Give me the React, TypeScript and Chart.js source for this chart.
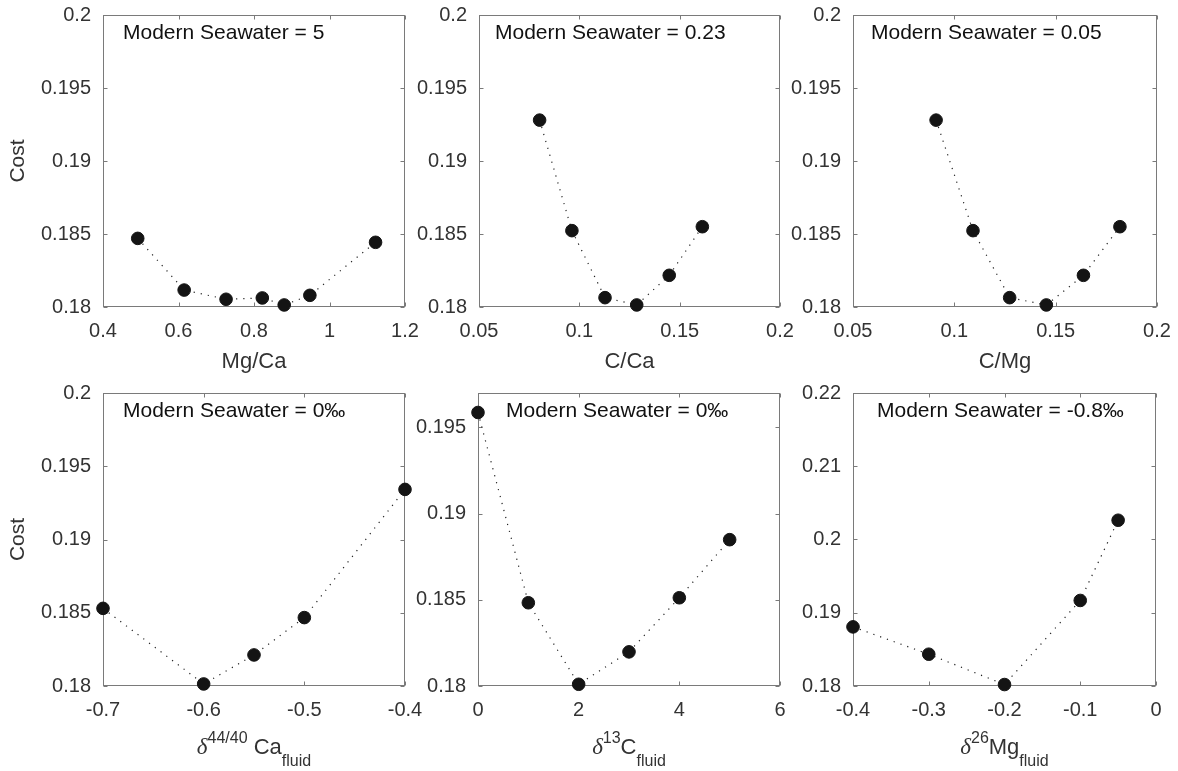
import React, { useEffect, useRef } from "react";
import { Chart, registerables } from "chart.js";

Chart.register(...registerables);

// ---- data ---------------------------------------------------------------
const mgCaRatio = [0.492, 0.615, 0.726, 0.822, 0.88, 0.948, 1.122];
const mgCaCost = [0.1847, 0.18116, 0.18053, 0.18062, 0.18014, 0.1808, 0.18443];
const mgCaTicks = [0.4, 0.6, 0.8, 1, 1.2];

const cCaRatio = [0.0802, 0.0963, 0.1128, 0.1286, 0.1448, 0.1613];
const cCaCost = [0.1928, 0.18523, 0.18064, 0.18014, 0.18217, 0.1855];
const cCaTicks = [0.05, 0.1, 0.15, 0.2];

const cMgRatio = [0.091, 0.1092, 0.1273, 0.1454, 0.1637, 0.1817];
const cMgCost = [0.1928, 0.18523, 0.18064, 0.18014, 0.18217, 0.1855];
const cMgTicks = [0.05, 0.1, 0.15, 0.2];

const d44CaFluid = [-0.7, -0.6, -0.55, -0.5, -0.4];
const d44CaCost = [0.1853, 0.18014, 0.18212, 0.18467, 0.19342];
const d44CaTicks = [-0.7, -0.6, -0.5, -0.4];

const d13CFluid = [0, 1, 2, 3, 4, 5];
const d13CCost = [0.19587, 0.18483, 0.1801, 0.18198, 0.18512, 0.18849];
const d13CTicks = [0, 2, 4, 6];

const d26MgFluid = [-0.4, -0.3, -0.2, -0.1, -0.05];
const d26MgCost = [0.18807, 0.18434, 0.1802, 0.19168, 0.20263];
const d26MgTicks = [-0.4, -0.3, -0.2, -0.1, 0];

const costTicks = [0.18, 0.185, 0.19, 0.195, 0.2];
const costTicksC13 = [0.18, 0.185, 0.19, 0.195];
const costTicksMg26 = [0.18, 0.19, 0.2, 0.21, 0.22];
const costMaxC13 = 0.197;

// ---- styling --------------------------------------------------------------
const SANS = '"Liberation Sans", Arial, Helvetica, sans-serif';
const SERIF = '"Liberation Serif", "DejaVu Serif", serif';
const TICK_COLOR = "#333333";
const AXIS_COLOR = "#7a7a7a";
const NOTE_COLOR = "#111111";
const MARK_COLOR = "#141414";

const AXIS_W = 97; // room left of the plot box for tick labels and "Cost"
const PAD_TOP = 30;
const PAD_RIGHT = 40;
const X_AXIS_H = 85;
const TICK_LEN = 4;

type Seg = { text: string; size: number; rise?: number; italic?: boolean; serif?: boolean };

type Panel = {
  xs: number[];
  ys: number[];
  xTicks: number[];
  yTicks: number[];
  yMax: number;
  note: string;
  noteDx: number;
  label: Seg[];
  labelDrop: number;
  showCost: boolean;
  rect: { left: number; top: number; width: number; height: number };
};

const plain = (text: string): Seg[] => [{ text, size: 22 }];
const delta = (mass: string, elem: string, gap: string): Seg[] => [
  { text: "\u03b4", size: 23, italic: true, serif: true },
  { text: mass, size: 16, rise: 11 },
  { text: gap + elem, size: 22 },
  { text: "fluid", size: 16, rise: -12 },
];

const panels: Panel[] = [
  {
    xs: mgCaRatio, ys: mgCaCost, xTicks: mgCaTicks, yTicks: costTicks, yMax: 0.2,
    note: "Modern Seawater = 5", noteDx: 20, label: plain("Mg/Ca"), labelDrop: 61, showCost: true,
    rect: { left: 103, top: 15, width: 302, height: 292 },
  },
  {
    xs: cCaRatio, ys: cCaCost, xTicks: cCaTicks, yTicks: costTicks, yMax: 0.2,
    note: "Modern Seawater = 0.23", noteDx: 16, label: plain("C/Ca"), labelDrop: 61, showCost: false,
    rect: { left: 479, top: 15, width: 301, height: 292 },
  },
  {
    xs: cMgRatio, ys: cMgCost, xTicks: cMgTicks, yTicks: costTicks, yMax: 0.2,
    note: "Modern Seawater = 0.05", noteDx: 18, label: plain("C/Mg"), labelDrop: 61, showCost: false,
    rect: { left: 853, top: 15, width: 304, height: 292 },
  },
  {
    xs: d44CaFluid, ys: d44CaCost, xTicks: d44CaTicks, yTicks: costTicks, yMax: 0.2,
    note: "Modern Seawater = 0\u2030", noteDx: 20, label: delta("44/40", "Ca", " "), labelDrop: 68, showCost: true,
    rect: { left: 103, top: 393, width: 302, height: 293 },
  },
  {
    xs: d13CFluid, ys: d13CCost, xTicks: d13CTicks, yTicks: costTicksC13, yMax: costMaxC13,
    note: "Modern Seawater = 0\u2030", noteDx: 28, label: delta("13", "C", ""), labelDrop: 68, showCost: false,
    rect: { left: 478, top: 393, width: 302, height: 293 },
  },
  {
    xs: d26MgFluid, ys: d26MgCost, xTicks: d26MgTicks, yTicks: costTicksMg26, yMax: 0.22,
    note: "Modern Seawater = -0.8\u2030", noteDx: 24, label: delta("26", "Mg", ""), labelDrop: 68, showCost: false,
    rect: { left: 853, top: 393, width: 303, height: 293 },
  },
];

const fmt = (v: number | string) => String(parseFloat(Number(v).toFixed(4)));

// Box, inward tick marks on all four sides, the corner note and the axis label.
const framePlugin = {
  id: "frame",
  beforeDatasetsDraw(chart: any) {
    const { ctx, chartArea: a, scales } = chart;
    const L = Math.round(a.left) + 0.5;
    const R = Math.round(a.right) - 0.5;
    const T = Math.round(a.top) + 0.5;
    const B = Math.round(a.bottom) - 0.5;
    ctx.save();
    ctx.strokeStyle = AXIS_COLOR;
    ctx.lineWidth = 1;
    ctx.strokeRect(L, T, R - L, B - T);
    ctx.beginPath();
    for (const t of scales.x.ticks) {
      const px = Math.round(scales.x.getPixelForValue(t.value)) + 0.5;
      ctx.moveTo(px, B);
      ctx.lineTo(px, B - TICK_LEN);
      ctx.moveTo(px, T);
      ctx.lineTo(px, T + TICK_LEN);
    }
    for (const t of scales.y.ticks) {
      const py = Math.round(scales.y.getPixelForValue(t.value)) + 0.5;
      ctx.moveTo(L, py);
      ctx.lineTo(L + TICK_LEN, py);
      ctx.moveTo(R, py);
      ctx.lineTo(R - TICK_LEN, py);
    }
    ctx.stroke();
    ctx.restore();
  },
  afterDraw(chart: any, _args: any, opts: any) {
    const { ctx, chartArea: a } = chart;
    const p: Panel = opts.panel;
    ctx.save();
    // corner note
    ctx.font = `21px ${SANS}`;
    ctx.fillStyle = NOTE_COLOR;
    ctx.textAlign = "left";
    ctx.textBaseline = "middle";
    ctx.fillText(p.note, a.left + p.noteDx, a.top + 18);
    // x-axis label with super/subscripts
    const fontOf = (s: Seg) => `${s.italic ? "italic " : ""}${s.size}px ${s.serif ? SERIF : SANS}`;
    const widths = p.label.map((s) => {
      ctx.font = fontOf(s);
      return ctx.measureText(s.text).width;
    });
    const total = widths.reduce((m, w) => m + w, 0);
    let x = (a.left + a.right) / 2 - total / 2;
    const base = a.bottom + p.labelDrop;
    ctx.fillStyle = TICK_COLOR;
    ctx.textBaseline = "alphabetic";
    p.label.forEach((s, i) => {
      ctx.font = fontOf(s);
      ctx.fillText(s.text, x, base - (s.rise || 0));
      x += widths[i];
    });
    ctx.restore();
  },
};

function PanelChart({ panel }: { panel: Panel }) {
  const ref = useRef<HTMLCanvasElement | null>(null);
  const w = AXIS_W + panel.rect.width + PAD_RIGHT;
  const h = PAD_TOP + panel.rect.height + X_AXIS_H;

  useEffect(() => {
    if (!ref.current) return;
    const tickFont = { family: SANS, size: 20 };
    const chart = new Chart(ref.current, {
      type: "scatter",
      data: {
        datasets: [
          {
            data: panel.xs.map((x, i) => ({ x, y: panel.ys[i] })),
            showLine: true,
            borderColor: "#222222",
            borderWidth: 1.2,
            borderDash: [1.2, 6],
            pointRadius: 6.3,
            pointBorderWidth: 1,
            pointBackgroundColor: MARK_COLOR,
            pointBorderColor: MARK_COLOR,
            clip: false,
          } as any,
        ],
      },
      options: {
        responsive: false,
        animation: false,
        devicePixelRatio: 1,
        events: [],
        layout: { padding: { left: 0, top: PAD_TOP, right: PAD_RIGHT, bottom: 0 } },
        plugins: {
          legend: { display: false },
          tooltip: { enabled: false },
          frame: { panel },
        } as any,
        scales: {
          x: {
            type: "linear",
            min: panel.xTicks[0],
            max: panel.xTicks[panel.xTicks.length - 1],
            grid: { display: false, drawTicks: false },
            border: { display: false },
            ticks: {
              padding: 12,
              color: TICK_COLOR,
              font: tickFont,
              autoSkip: false,
              maxRotation: 0,
              callback: (v: any) => fmt(v),
            },
            afterBuildTicks: (s: any) => {
              s.ticks = panel.xTicks.map((v) => ({ value: v }));
            },
            afterFit: (s: any) => {
              s.height = X_AXIS_H;
            },
          },
          y: {
            type: "linear",
            min: panel.yTicks[0],
            max: panel.yMax,
            grid: { display: false, drawTicks: false },
            border: { display: false },
            title: {
              display: panel.showCost,
              text: "Cost",
              color: TICK_COLOR,
              font: { family: SANS, size: 21 },
              padding: { top: 0, bottom: 0 },
            },
            ticks: {
              padding: 12,
              color: TICK_COLOR,
              font: tickFont,
              autoSkip: false,
              callback: (v: any) => fmt(v),
            },
            afterBuildTicks: (s: any) => {
              s.ticks = panel.yTicks.map((v) => ({ value: v }));
            },
            afterFit: (s: any) => {
              s.width = AXIS_W;
            },
          },
        },
      } as any,
      plugins: [framePlugin],
    });
    return () => chart.destroy();
  }, [panel]);

  return (
    <canvas
      ref={ref}
      width={w}
      height={h}
      style={{
        position: "absolute",
        left: panel.rect.left - AXIS_W,
        top: panel.rect.top - PAD_TOP,
        width: w,
        height: h,
      }}
    />
  );
}

export default function App() {
  return (
    <div
      style={{
        position: "fixed",
        left: 0,
        top: 0,
        width: 1178,
        height: 771,
        background: "#ffffff",
        overflow: "hidden",
      }}
    >
      {panels.map((p, i) => (
        <PanelChart key={i} panel={p} />
      ))}
    </div>
  );
}
